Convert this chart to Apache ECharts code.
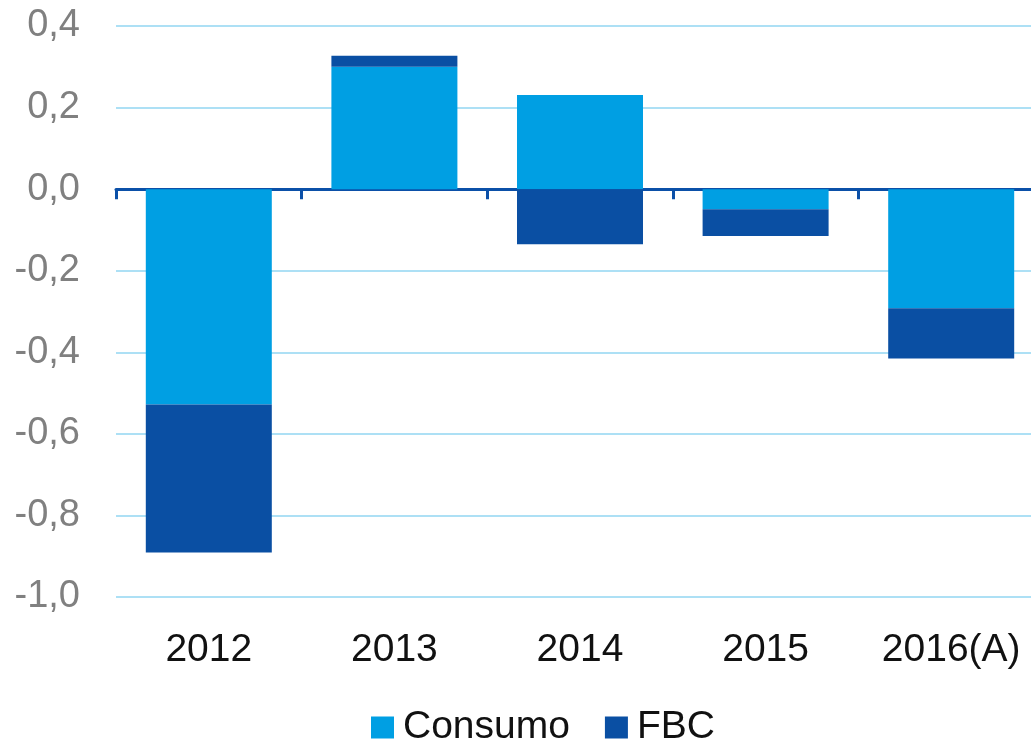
<!DOCTYPE html>
<html>
<head>
<meta charset="utf-8">
<script src="https://cdn.jsdelivr.net/npm/echarts@6/dist/echarts.min.js"></script>
<style>html,body{margin:0;padding:0;background:#fff}#c{width:1031px;height:746px}</style>
</head>
<body>
<div id="c"></div>
<script>
const categories = ['2012', '2013', '2014', '2015', '2016(A)'];
const consumo = [-0.528, 0.30, 0.231, -0.049, -0.292];
const fbc = [-0.363, 0.027, -0.135, -0.066, -0.123];
const yTicks = { min: -1.0, max: 0.4, interval: 0.2 };

const chart = echarts.init(document.getElementById('c'), null, { renderer: 'canvas' });
const font = 'Liberation Sans, Arial, sans-serif';
chart.setOption({
  animation: false,
  grid: { left: 116, width: 928, top: 26, height: 571, containLabel: false, outerBoundsMode: 'none' },
  legend: {
    left: 366, top: 703, padding: 5,
    itemWidth: 23, itemHeight: 22, itemGap: 35,
    icon: 'rect',
    textStyle: { fontFamily: font, fontSize: 39, color: '#111', padding: [0, 0, 0, 4] },
    data: ['Consumo', 'FBC']
  },
  xAxis: [
    {
      type: 'category', data: categories,
      axisLine: { onZero: true, lineStyle: { color: '#0b50a8', width: 3 } },
      axisTick: { show: true, inside: false, length: 10, lineStyle: { color: '#0b50a8', width: 3 } },
      axisLabel: { show: false }
    },
    {
      type: 'category', data: categories, position: 'bottom',
      axisLine: { show: false }, axisTick: { show: false },
      axisLabel: { fontFamily: font, fontSize: 39, color: '#111', margin: 34 }
    }
  ],
  yAxis: {
    type: 'value', min: yTicks.min, max: yTicks.max, interval: yTicks.interval,
    axisLine: { show: false }, axisTick: { show: false },
    splitLine: { lineStyle: { color: '#ade0f5', width: 2 } },
    axisLabel: {
      fontFamily: font, fontSize: 38, color: '#808080', margin: 36,
      formatter: v => v.toFixed(1).replace('.', ',')
    }
  },
  series: [
    { name: 'Consumo', type: 'bar', stack: 't', data: consumo, barWidth: 126, itemStyle: { color: '#009fe3' } },
    { name: 'FBC', type: 'bar', stack: 't', data: fbc, barWidth: 126, itemStyle: { color: '#0a4fa3' } }
  ]
});
</script>
</body>
</html>
